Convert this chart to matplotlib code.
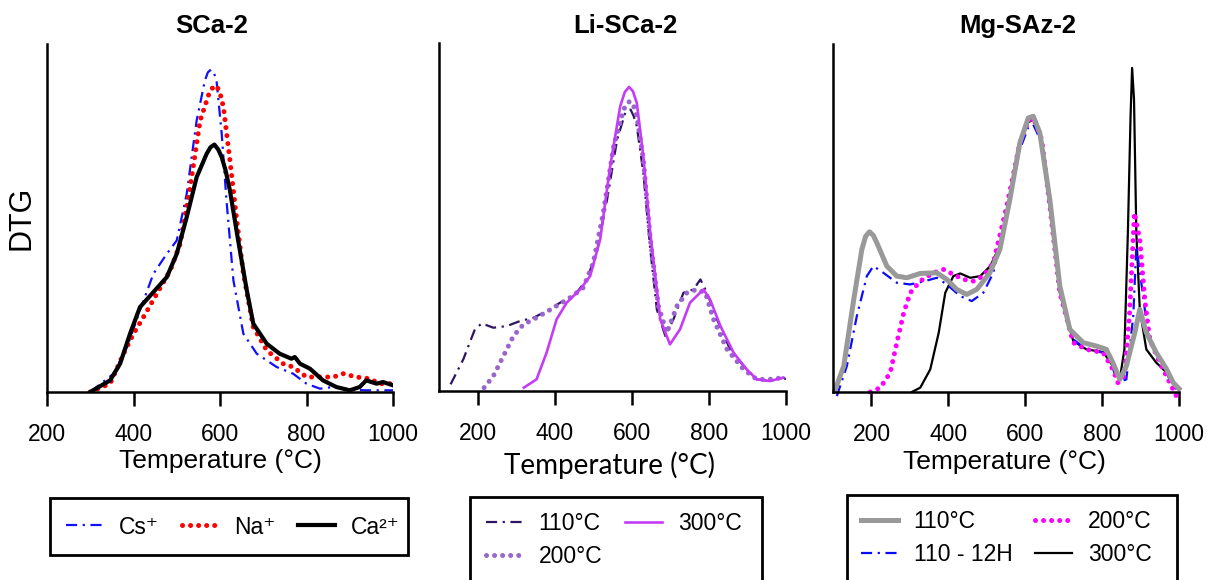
import matplotlib
matplotlib.use("Agg")
import matplotlib.pyplot as plt
from matplotlib.patches import Rectangle

plt.rcParams['font.family'] = ['Liberation Sans', 'DejaVu Sans']

# ---------------- data (DTG in arbitrary units) ----------------
# Panel 1: SCa-2
p1_cs_T = [300, 354, 385, 415, 446, 477, 500, 523, 546, 565, 572, 579, 586, 592, 604, 615, 631, 654, 685, 731, 769, 800, 831, 862, 900, 938, 1000]
p1_cs_y = [0, 55, 135, 245, 355, 415, 455, 595, 815, 935, 960, 968, 958, 935, 775, 575, 335, 175, 115, 75, 55, 25, 10, 15, 7, 5, 5]
p1_na_T = [300, 346, 377, 400, 423, 454, 485, 508, 531, 554, 577, 585, 592, 600, 608, 623, 638, 654, 677, 708, 746, 769, 800, 831, 862, 885, 915, 946, 969, 1000]
p1_na_y = [0, 25, 115, 175, 225, 295, 365, 445, 615, 815, 905, 916, 920, 898, 855, 695, 525, 355, 195, 125, 85, 75, 45, 45, 45, 55, 45, 40, 25, 25]
p1_ca_T = [300, 346, 369, 392, 415, 446, 477, 500, 523, 546, 569, 578, 587, 596, 604, 613, 623, 642, 662, 677, 708, 738, 765, 773, 785, 808, 838, 869, 900, 923, 938, 962, 977, 1000]
p1_ca_y = [0, 35, 85, 175, 255, 300, 345, 415, 525, 645, 715, 735, 743, 728, 705, 665, 605, 455, 305, 205, 145, 115, 100, 105, 85, 70, 35, 15, 5, 15, 35, 25, 30, 20]

# Panel 2: Li-SCa-2
p2_110_T = [130, 163, 193, 211, 241, 276, 310, 345, 379, 414, 457, 483, 509, 536, 562, 583, 590, 597, 605, 613, 630, 648, 665, 687, 708, 734, 760, 778, 795, 821, 855, 890, 924, 958, 993, 1000]
p2_110_y = [20, 95, 185, 203, 190, 195, 210, 220, 240, 265, 295, 335, 415, 575, 755, 835, 843, 845, 825, 795, 655, 425, 245, 165, 215, 295, 305, 335, 295, 215, 125, 75, 35, 30, 40, 35]
p2_200_T = [217, 241, 267, 293, 319, 353, 397, 440, 474, 500, 526, 553, 579, 588, 596, 605, 613, 630, 648, 669, 691, 717, 743, 769, 791, 812, 847, 890, 924, 958, 993]
p2_200_y = [10, 45, 105, 165, 200, 220, 250, 280, 310, 385, 535, 735, 845, 865, 870, 855, 825, 695, 455, 255, 175, 255, 295, 305, 295, 215, 125, 65, 35, 35, 40]
p2_300_T = [320, 353, 379, 405, 431, 466, 492, 518, 544, 570, 582, 593, 603, 613, 630, 648, 674, 699, 725, 751, 786, 803, 830, 864, 898, 924, 958, 993]
p2_300_y = [10, 35, 115, 215, 265, 305, 345, 455, 675, 855, 898, 913, 900, 865, 705, 475, 215, 140, 185, 265, 305, 275, 195, 115, 65, 35, 30, 40]

# Panel 3: Mg-SAz-2
p3_110_T = [106, 128, 154, 175, 185, 195, 205, 214, 240, 266, 292, 327, 370, 396, 422, 448, 474, 508, 534, 560, 586, 608, 621, 638, 664, 690, 716, 751, 785, 811, 828, 846, 863, 885, 898, 915, 941, 968, 985, 1000]
p3_110_y = [8, 78, 278, 428, 468, 481, 470, 448, 378, 348, 343, 356, 358, 338, 308, 293, 308, 358, 428, 578, 748, 823, 828, 778, 578, 318, 188, 148, 138, 128, 88, 38, 78, 178, 248, 178, 118, 68, 28, 10]
p3_12h_T = [110, 136, 162, 188, 205, 231, 266, 301, 339, 370, 396, 431, 461, 491, 517, 552, 586, 608, 621, 643, 664, 690, 725, 759, 803, 820, 841, 863, 881, 889, 902, 919, 950, 976, 997]
p3_12h_y = [-12, 78, 228, 348, 378, 358, 328, 323, 333, 343, 323, 288, 273, 298, 358, 538, 728, 795, 803, 748, 558, 298, 158, 128, 118, 98, 28, 38, 228, 438, 328, 178, 98, 38, 3]
p3_200_T = [197, 223, 249, 266, 284, 301, 327, 361, 388, 413, 439, 465, 491, 517, 552, 586, 608, 621, 643, 664, 690, 725, 759, 803, 828, 841, 858, 871, 884, 898, 911, 924, 950, 976, 993, 997]
p3_200_y = [0, 13, 58, 148, 238, 298, 333, 358, 368, 353, 338, 333, 348, 388, 558, 748, 815, 823, 758, 558, 298, 148, 128, 118, 68, 28, 48, 228, 538, 458, 278, 158, 88, 28, -12, -32]
p3_300_T = [305, 327, 353, 375, 392, 413, 431, 457, 483, 509, 534, 560, 586, 608, 621, 643, 664, 690, 725, 759, 803, 828, 846, 858, 867, 874, 878, 883, 889, 898, 915, 941, 968, 989, 1000]
p3_300_y = [0, 13, 68, 178, 298, 348, 356, 343, 348, 378, 438, 578, 748, 810, 818, 758, 558, 298, 153, 128, 120, 78, 38, 128, 478, 828, 973, 878, 478, 248, 128, 88, 58, 18, 8]

titles = ["SCa-2", "Li-SCa-2", "Mg-SAz-2"]
xticks = [200, 400, 600, 800, 1000]

# ---------------- figure ----------------
W, H = 1214, 580
fig = plt.figure(figsize=(W / 100, H / 100), dpi=100)


def add_ax(l, r, t, b):
    return fig.add_axes([l / W, 1 - b / H, (r - l) / W, (b - t) / H])


def style(ax, xlim):
    ax.set_xlim(*xlim)
    ax.set_ylim(0, 1045)
    for s in ['top', 'right']:
        ax.spines[s].set_visible(False)
    for s in ['left', 'bottom']:
        ax.spines[s].set_linewidth(1.8)
        ax.spines[s].set_color('black')
    ax.set_yticks([])
    ax.set_xticks(xticks)
    ax.tick_params(axis='x', length=10, width=1.8, labelsize=16.5, pad=12, direction='out')


dot = (0, (0.01, 1.6))
ddot = (0, (5, 2.5, 1, 2.5))

ax1 = add_ax(47, 393, 44, 392)
style(ax1, (200, 1000))
ax1.plot(p1_cs_T, p1_cs_y, color='#1010FF', lw=1.6, ls=ddot, label='Cs\u207a')
ax1.plot(p1_na_T, p1_na_y, color='#FF0000', lw=3.6, ls=dot, dash_capstyle='round', label='Na\u207a')
ax1.plot(p1_ca_T, p1_ca_y, color='black', lw=3.0, label='Ca\u00b2\u207a')

ax2 = add_ax(439, 786, 43, 391)
style(ax2, (100, 1000))
ax2.plot(p2_110_T, p2_110_y, color='#2E1560', lw=1.6, ls=ddot, label='110°C')
ax2.plot(p2_200_T, p2_200_y, color='#9966CC', lw=3.6, ls=dot, dash_capstyle='round', label='200°C')
ax2.plot(p2_300_T, p2_300_y, color='#C43CF5', lw=1.9, label='300°C')

ax3 = add_ax(833, 1179, 44, 392)
style(ax3, (100, 1000))
l300, = ax3.plot(p3_300_T, p3_300_y, color='black', lw=1.6, label='300°C', clip_on=False)
l12, = ax3.plot(p3_12h_T, p3_12h_y, color='#0A0AFF', lw=1.6, ls=ddot, label='110 - 12H', clip_on=False)
l200, = ax3.plot(p3_200_T, p3_200_y, color='#FF00FF', lw=3.6, ls=dot, dash_capstyle='round', label='200°C', clip_on=False)
l110, = ax3.plot(p3_110_T, p3_110_y, color='#999999', lw=3.6, label='110°C', clip_on=False)

# titles
for x, t in zip([212, 625, 1018], titles):
    fig.text(x / W, 1 - 26 / H, t, ha='center', va='center', fontsize=18.5, fontweight='bold')

# y label
fig.text(22 / W, 1 - 218 / H, 'DTG', rotation=90, ha='center', va='center', fontsize=22)

# x labels
fig.text(220 / W, 1 - 461 / H, 'Temperature (°C)', ha='center', va='center', fontsize=19)
fig.text(610 / W, 1 - 465 / H, 'Temperature (°C)', ha='center', va='center', fontsize=20, family='Lato')
fig.text(1004 / W, 1 - 462 / H, 'Temperature (°C)', ha='center', va='center', fontsize=19)

# legend frames
for (l, r, t, b) in [(50, 408, 498, 555), (470, 762, 497, 620), (847, 1177, 495, 620)]:
    fig.patches.append(Rectangle((l / W, 1 - b / H), (r - l) / W, (b - t) / H,
                                 transform=fig.transFigure, fill=False,
                                 edgecolor='black', linewidth=2.0))

leg_kw = dict(frameon=False, fontsize=16.5, handlelength=1.6, handletextpad=0.7,
              columnspacing=1.0, borderaxespad=0, borderpad=0)
h1, lab1 = ax1.get_legend_handles_labels()
fig.legend(h1, lab1, ncol=3, loc='center left', bbox_to_anchor=(66 / W, 1 - 527 / H), **leg_kw)
h2, lab2 = ax2.get_legend_handles_labels()
fig.legend(h2, lab2, ncol=2, loc='upper left', bbox_to_anchor=(486 / W, 1 - 512 / H),
           labelspacing=0.45, **leg_kw)
fig.legend([l110, l12, l200, l300], ['110°C', '110 - 12H', '200°C', '300°C'], ncol=2,
           loc='upper left', bbox_to_anchor=(861 / W, 1 - 510 / H), labelspacing=0.45, **leg_kw)

fig.savefig('out.png', dpi=100)
